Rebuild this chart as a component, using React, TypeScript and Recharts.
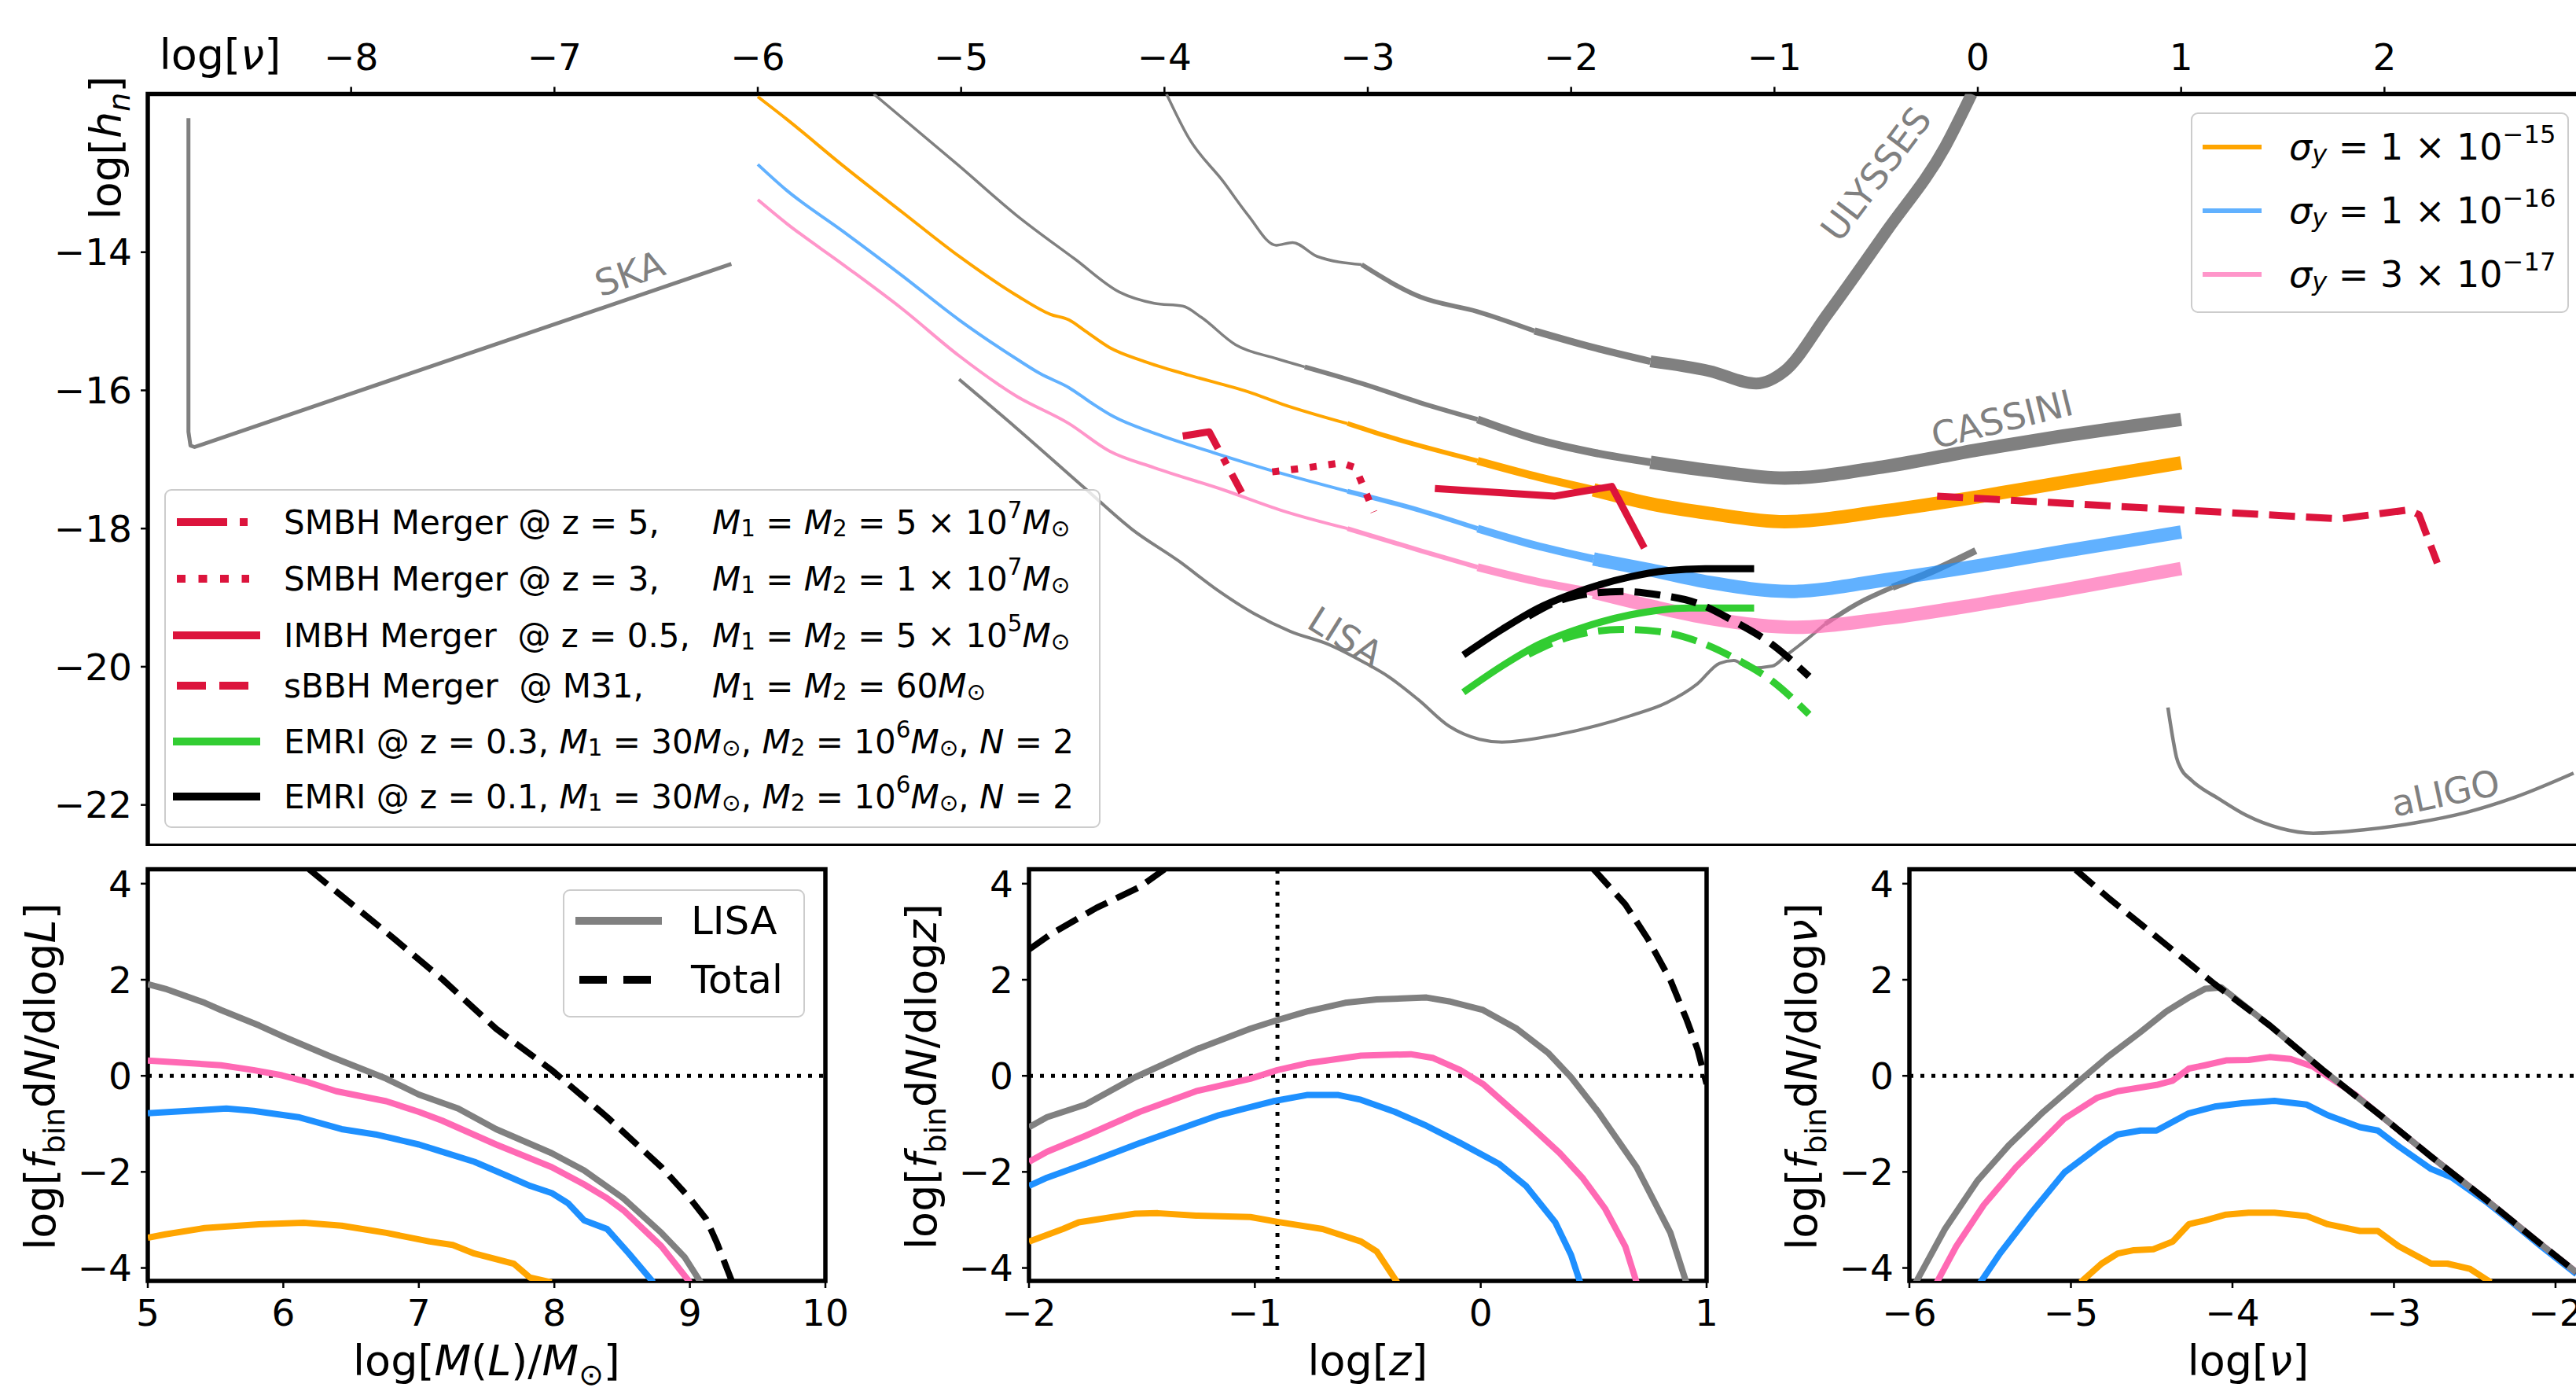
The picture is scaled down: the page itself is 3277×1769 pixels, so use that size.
import React from 'react';
import {
  LineChart,
  Line,
  XAxis,
  YAxis,
  ReferenceArea,
  ReferenceLine,
  ReferenceDot,
  Legend,
} from 'recharts';

type P = [number, number];
type Seg = { t: string; it?: boolean; sub?: boolean; sup?: boolean };

const FONT = 'DejaVu Sans';
const GRAY = '#808080';
const ORANGE = '#FFA500';
const BLUE = '#1E90FF';
const PINK = '#FF69B4';
const CRIMSON = '#DC143C';
const GREEN = '#32CD32';

// ---------- top panel: log[nu] vs log[h_n] ----------
const topNuTicks = [-8, -7, -6, -5, -4, -3, -2, -1, 0, 1, 2];
const hTicks = [-22, -20, -18, -16, -14];

const ska: P[] = [[-8.8, -12.06], [-8.8, -16.6], [-8.79, -16.8], [-8.77, -16.82], [-6.13, -14.17]];

const ulysses: P[] = [
  [-3.99, -11.71], [-3.88, -12.35], [-3.71, -12.98], [-3.59, -13.46], [-3.45, -13.9], [-3.37, -13.86],
  [-3.25, -14.06], [-3.03, -14.18], [-2.74, -14.65], [-2.46, -14.86], [-2.18, -15.14], [-1.89, -15.38],
  [-1.61, -15.58], [-1.32, -15.72], [-1.09, -15.9], [-0.95, -15.72], [-0.74, -14.9], [-0.45, -13.7],
  [-0.16, -12.47], [-0.03, -11.71],
];

const cassini: P[] = [
  [-5.43, -11.71], [-5.01, -12.75], [-4.73, -13.46], [-4.44, -14.1], [-4.22, -14.58], [-4.05, -14.74],
  [-3.91, -14.78], [-3.82, -14.94], [-3.65, -15.34], [-3.45, -15.54], [-3.31, -15.66], [-3.03, -15.9],
  [-2.74, -16.18], [-2.46, -16.42], [-2.18, -16.7], [-1.89, -16.9], [-1.61, -17.04], [-1.32, -17.16],
  [-0.95, -17.27], [-0.45, -17.1], [0, -16.86], [0.42, -16.66], [1, -16.42],
];

const lisa: P[] = [
  [-5.01, -15.84], [-4.73, -16.54], [-4.39, -17.42], [-4.16, -18.01], [-3.93, -18.47], [-3.74, -18.89],
  [-3.56, -19.23], [-3.38, -19.49], [-3.19, -19.68], [-3.01, -19.95], [-2.9, -20.14], [-2.75, -20.48],
  [-2.6, -20.86], [-2.45, -21.05], [-2.34, -21.09], [-2.08, -20.99], [-1.71, -20.71], [-1.53, -20.52],
  [-1.38, -20.25], [-1.27, -19.95], [-1.2, -19.91], [-1.12, -20.02], [-1.01, -19.99], [-0.94, -19.83],
  [-0.86, -19.65], [-0.75, -19.38], [-0.6, -19.1], [-0.42, -18.85], [-0.24, -18.64], [-0.01, -18.32],
];

const aligo: P[] = [
  [0.935, -20.59], [0.96, -21.05], [0.977, -21.31], [1.0, -21.48], [1.05, -21.64], [1.19, -21.92],
  [1.32, -22.15], [1.49, -22.34], [1.65, -22.41], [1.9, -22.36], [2.15, -22.26], [2.4, -22.11],
  [2.65, -21.88], [2.93, -21.54],
];

const sigma15: P[] = [
  [-6, -11.75], [-5.86, -12.07], [-5.58, -12.75], [-5.29, -13.42], [-5.01, -14.06], [-4.73, -14.62],
  [-4.56, -14.9], [-4.47, -14.98], [-4.39, -15.14], [-4.27, -15.38], [-4.1, -15.58], [-3.88, -15.78],
  [-3.59, -16.02], [-3.42, -16.2], [-3.1, -16.48], [-2.91, -16.66], [-2.46, -17.02], [-2.18, -17.24],
  [-1.89, -17.44], [-1.61, -17.64], [-1.32, -17.78], [-0.95, -17.9], [-0.45, -17.74], [0, -17.54],
  [0.42, -17.33], [1, -17.05],
];

const sigma16: P[] = [
  [-6, -12.73], [-5.86, -13.1], [-5.58, -13.7], [-5.29, -14.34], [-5.01, -14.98], [-4.73, -15.54],
  [-4.61, -15.76], [-4.47, -15.96], [-4.36, -16.18], [-4.25, -16.38], [-4.05, -16.62], [-3.76, -16.9],
  [-3.45, -17.18], [-3.1, -17.46], [-2.74, -17.74], [-2.46, -18.0], [-2.18, -18.24], [-1.89, -18.44],
  [-1.61, -18.6], [-1.32, -18.78], [-0.92, -18.91], [-0.45, -18.74], [0, -18.54], [0.42, -18.33],
  [1, -18.05],
];

const sigma17: P[] = [
  [-6, -13.24], [-5.86, -13.58], [-5.58, -14.18], [-5.29, -14.82], [-5.01, -15.5], [-4.73, -16.08],
  [-4.47, -16.48], [-4.27, -16.88], [-4.05, -17.12], [-3.71, -17.44], [-3.4, -17.76], [-3.1, -18.0],
  [-2.74, -18.32], [-2.46, -18.56], [-2.18, -18.76], [-1.89, -18.92], [-1.61, -19.12], [-1.32, -19.3],
  [-0.89, -19.43], [-0.45, -19.3], [0, -19.1], [0.42, -18.89], [1, -18.58],
];

const smbhZ5: P[] = [[-3.91, -16.66], [-3.78, -16.6], [-3.62, -17.48]];
const smbhZ3: P[] = [[-3.47, -17.18], [-3.3, -17.12], [-3.13, -17.05], [-3.06, -17.12], [-2.97, -17.76]];
const imbh: P[] = [[-2.67, -17.42], [-2.08, -17.53], [-1.8, -17.39], [-1.64, -18.28]];
const sbbh: P[] = [[-0.2, -17.53], [1.78, -17.86], [2.12, -17.73], [2.17, -17.8], [2.26, -18.5]];

const emriZ03: P[] = [[-2.53, -20.37], [-2.34, -19.99], [-2.16, -19.68], [-1.93, -19.42], [-1.71, -19.25], [-1.42, -19.15], [-1.1, -19.15]];
const emriZ03b: P[] = [[-2.21, -19.82], [-2.01, -19.57], [-1.75, -19.46], [-1.57, -19.49], [-1.38, -19.63], [-1.2, -19.87], [-1.01, -20.21], [-0.83, -20.69]];
const emriZ01: P[] = [[-2.53, -19.83], [-2.34, -19.46], [-2.16, -19.15], [-1.97, -18.92], [-1.71, -18.7], [-1.53, -18.61], [-1.34, -18.58], [-1.1, -18.58]];
const emriZ01b: P[] = [[-2.21, -19.27], [-2.01, -19.0], [-1.75, -18.91], [-1.57, -18.96], [-1.38, -19.08], [-1.2, -19.34], [-1.01, -19.68], [-0.83, -20.14]];

const sigmaMant = ['1', '1', '3'];
const sigmaExp = ['\u221215', '\u221216', '\u221217'];

// ---------- bottom panels: log[f_bin dN/dlog X] ----------
const fTicks = [-4, -2, 0, 2, 4];
const massTicks = [5, 6, 7, 8, 9, 10];
const zTicks = [-2, -1, 0, 1];
const nuTicks = [-6, -5, -4, -3, -2];

const massLisa: P[] = [[5, 1.91], [5.13, 1.81], [5.42, 1.52], [5.54, 1.37], [5.82, 1.05], [5.99, 0.83], [6.35, 0.4], [6.76, -0.06], [7, -0.39], [7.29, -0.68], [7.57, -1.11], [7.98, -1.61], [8.22, -1.97], [8.51, -2.55], [8.79, -3.27], [8.96, -3.77], [9.08, -4.3]];
const massPink: P[] = [[5, 0.32], [5.54, 0.22], [5.78, 0.12], [5.99, 0.01], [6.19, -0.14], [6.39, -0.32], [6.76, -0.53], [7, -0.75], [7.17, -0.93], [7.57, -1.43], [7.98, -1.9], [8.22, -2.26], [8.39, -2.55], [8.51, -2.8], [8.79, -3.55], [9, -4.3]];
const massBlue: P[] = [[5, -0.78], [5.42, -0.71], [5.58, -0.68], [5.78, -0.73], [6.11, -0.86], [6.43, -1.11], [6.68, -1.22], [7, -1.43], [7.17, -1.58], [7.41, -1.79], [7.65, -2.08], [7.82, -2.29], [7.98, -2.44], [8.1, -2.65], [8.22, -3.01], [8.39, -3.19], [8.55, -3.7], [8.73, -4.3]];
const massOrange: P[] = [[5, -3.37], [5.13, -3.3], [5.42, -3.17], [5.82, -3.09], [6.15, -3.06], [6.43, -3.12], [6.76, -3.27], [7.08, -3.45], [7.25, -3.52], [7.41, -3.7], [7.7, -3.91], [7.82, -4.2], [7.98, -4.3]];
const massTotal: P[] = [[6.19, 4.3], [6.35, 3.93], [6.76, 2.99], [7.17, 2.02], [7.57, 0.98], [7.98, 0.12], [8.39, -0.86], [8.79, -1.9], [9, -2.55], [9.12, -2.98], [9.2, -3.48], [9.28, -4.06], [9.32, -4.35]];

const zLisa: P[] = [[-2, -1.07], [-1.92, -0.86], [-1.75, -0.6], [-1.53, -0.03], [-1.26, 0.55], [-1.02, 0.98], [-0.9, 1.16], [-0.77, 1.34], [-0.6, 1.52], [-0.46, 1.59], [-0.24, 1.63], [-0.14, 1.55], [0.01, 1.37], [0.16, 0.98], [0.3, 0.47], [0.4, -0.03], [0.52, -0.75], [0.69, -1.9], [0.84, -3.27], [0.91, -4.3]];
const zPink: P[] = [[-2, -1.79], [-1.92, -1.58], [-1.75, -1.25], [-1.51, -0.75], [-1.26, -0.32], [-1.02, -0.06], [-0.9, 0.12], [-0.77, 0.26], [-0.53, 0.42], [-0.31, 0.45], [-0.21, 0.37], [-0.09, 0.12], [0.01, -0.17], [0.2, -0.96], [0.35, -1.61], [0.45, -2.12], [0.55, -2.76], [0.64, -3.55], [0.69, -4.3]];
const zBlue: P[] = [[-2, -2.29], [-1.92, -2.12], [-1.75, -1.83], [-1.51, -1.4], [-1.16, -0.82], [-1.07, -0.71], [-0.92, -0.53], [-0.77, -0.4], [-0.63, -0.4], [-0.53, -0.5], [-0.38, -0.75], [-0.24, -1.04], [-0.09, -1.4], [0.08, -1.83], [0.2, -2.29], [0.33, -3.05], [0.4, -3.73], [0.44, -4.3]];
const zOrange: P[] = [[-2, -3.45], [-1.85, -3.19], [-1.78, -3.05], [-1.63, -2.94], [-1.53, -2.87], [-1.43, -2.86], [-1.26, -2.91], [-1.02, -2.94], [-0.9, -3.04], [-0.7, -3.19], [-0.53, -3.45], [-0.46, -3.66], [-0.37, -4.3]];
const zTotalLow: P[] = [[-2, 2.63], [-1.9, 2.96], [-1.7, 3.5], [-1.51, 3.93], [-1.4, 4.3]];
const zTotalHigh: P[] = [[0.5, 4.3], [0.64, 3.57], [0.74, 2.85], [0.84, 1.99], [0.91, 1.19], [0.96, 0.55], [1, -0.17]];
const zMark = -0.9;

const nuLisa: P[] = [[-5.96, -4.3], [-5.78, -3.19], [-5.58, -2.19], [-5.38, -1.43], [-5.17, -0.75], [-4.97, -0.17], [-4.77, 0.4], [-4.57, 0.91], [-4.41, 1.34], [-4.27, 1.63], [-4.17, 1.81], [-4.07, 1.84], [-3.77, 1.05], [-3.44, 0.12], [-3.1, -0.78], [-2.77, -1.68], [-2.43, -2.58], [-2.1, -3.48], [-1.87, -4.09]];
const nuPink: P[] = [[-5.83, -4.3], [-5.71, -3.55], [-5.54, -2.69], [-5.34, -1.9], [-5.04, -0.89], [-4.84, -0.46], [-4.71, -0.32], [-4.47, -0.19], [-4.37, -0.1], [-4.27, 0.15], [-4.17, 0.22], [-4.04, 0.32], [-3.9, 0.33], [-3.77, 0.39], [-3.64, 0.35], [-3.5, 0.19], [-3.37, -0.1], [-3.24, -0.39], [-3.1, -0.78], [-2.77, -1.68], [-2.43, -2.58], [-2.1, -3.48], [-1.87, -4.09]];
const nuBlue: P[] = [[-5.56, -4.3], [-5.44, -3.7], [-5.24, -2.83], [-5.04, -2.01], [-4.81, -1.43], [-4.71, -1.22], [-4.57, -1.14], [-4.47, -1.14], [-4.37, -0.96], [-4.27, -0.78], [-4.11, -0.64], [-3.94, -0.57], [-3.74, -0.52], [-3.54, -0.6], [-3.41, -0.82], [-3.21, -1.07], [-3.1, -1.14], [-2.97, -1.47], [-2.77, -1.94], [-2.64, -2.12], [-2.43, -2.62], [-2.27, -3.05], [-2.1, -3.52], [-1.87, -4.13]];
const nuOrange: P[] = [[-4.94, -4.3], [-4.81, -3.91], [-4.71, -3.7], [-4.61, -3.63], [-4.49, -3.61], [-4.37, -3.45], [-4.27, -3.09], [-4.17, -3.01], [-4.04, -2.89], [-3.9, -2.85], [-3.74, -2.85], [-3.54, -2.92], [-3.41, -3.09], [-3.21, -3.23], [-3.1, -3.23], [-2.97, -3.55], [-2.77, -3.91], [-2.67, -3.91], [-2.53, -4.02], [-2.4, -4.3]];
const nuTotal: P[] = [[-4.97, 4.29], [-4.77, 3.71], [-4.44, 2.81], [-4.11, 1.91], [-3.77, 1.05], [-3.44, 0.12], [-3.1, -0.78], [-2.77, -1.68], [-2.43, -2.58], [-2.1, -3.48], [-1.87, -4.09]];

// stroke width steps that mimic the dense oscillation bands
const sigmaSteps = [[-6, -3.1, 4], [-3.1, -2.46, 6], [-2.46, -1.89, 10], [-1.89, 1, 17]];
const ulyssesSteps = [[-3.99, -3.03, 3.5], [-3.03, -2.18, 6], [-2.18, -1.61, 9], [-1.61, -0.03, 15]];
const cassiniSteps = [[-5.43, -3.31, 3.5], [-3.31, -2.46, 6], [-2.46, -1.61, 10], [-1.61, 1, 17]];
const lisaSteps = [[-5.01, -0.75, 4], [-0.75, -0.42, 6], [-0.42, -0.01, 9]];

const curveLabels = [
  { text: 'SKA', x: -6.63, y: -14.31, rot: -19 },
  { text: 'ULYSSES', x: -0.5, y: -12.87, rot: -53 },
  { text: 'CASSINI', x: 0.12, y: -16.42, rot: -14 },
  { text: 'LISA', x: -3.11, y: -19.57, rot: 32 },
  { text: 'aLIGO', x: 2.3, y: -21.83, rot: -12 },
];

const pts = (a: P[]) => a.map(([x, y]) => ({ x, y }));
const part = (a: P[], lo: number, hi: number) => pts(a.filter(([x]) => x >= lo - 1e-6 && x <= hi + 1e-6));
const fmt = (v: number) => (v < 0 ? `\u2212${Math.abs(v)}` : `${v}`);

const shiftOf = (s?: Seg) => (s?.sub ? 0.22 : s?.sup ? -0.42 : 0);

const MathText = ({ segs, x, y, size, rot = 0, fill = '#000' }: { segs: Seg[]; x: number; y: number; size: number; rot?: number; fill?: string }) => (
  <text x={x} y={y} fontSize={size} fontFamily={FONT} textAnchor="middle" fill={fill} transform={rot ? `rotate(${rot} ${x} ${y})` : undefined}>
    {segs.map((s, i) => (
      <tspan key={i} dy={(shiftOf(s) - shiftOf(segs[i - 1])) * size} fontStyle={s.it ? 'italic' : 'normal'} fontSize={s.sub || s.sup ? size * 0.7 : size}>
        {s.t}
      </tspan>
    ))}
  </text>
);

// Label clones its content with its own props (angle, offset...), so custom names are used here
const Title = (props: any) => <MathText segs={props.segs} x={props.tx} y={props.ty} size={54} rot={props.rot || 0} />;

const CurveLabel = (props: any) => {
  const vb = props.viewBox || { x: 0, y: 0, width: 0, height: 0 };
  const x = vb.x + (vb.width || 0) / 2;
  const y = vb.y + (vb.height || 0) / 2;
  return (
    <text x={x} y={y} textAnchor="middle" dominantBaseline="central" fontSize={46} fontFamily={FONT} fill={GRAY} transform={`rotate(${props.rot} ${x} ${y})`}>
      {props.text}
    </text>
  );
};

const hLabel: Seg[] = [{ t: 'log[' }, { t: 'h', it: true }, { t: 'n', it: true, sub: true }, { t: ']' }];
const nuLabel: Seg[] = [{ t: 'log[' }, { t: '\u03bd', it: true }, { t: ']' }];
const zLabel: Seg[] = [{ t: 'log[' }, { t: 'z', it: true }, { t: ']' }];
const massLabel: Seg[] = [{ t: 'log[' }, { t: 'M', it: true }, { t: '(' }, { t: 'L', it: true }, { t: ')/' }, { t: 'M', it: true }, { t: '\u2299', sub: true }, { t: ']' }];
const fLabel = (end: string): Seg[] => [
  { t: 'log[' }, { t: 'f', it: true }, { t: 'bin', sub: true }, { t: 'd' }, { t: 'N', it: true }, { t: '/dlog' }, { t: end, it: true }, { t: ']' },
];

const Sub = ({ children }: { children: React.ReactNode }) => (
  <span style={{ fontSize: '0.7em', position: 'relative', top: '0.28em', lineHeight: 0 }}>{children}</span>
);
const Sup = ({ children }: { children: React.ReactNode }) => (
  <span style={{ fontSize: '0.7em', position: 'relative', top: '-0.5em', lineHeight: 0 }}>{children}</span>
);
const Msun = () => (
  <>
    <i>M</i>
    <Sub>{'\u2299'}</Sub>
  </>
);

const Handle = ({ left, top, len, color, width, dash, opacity = 1 }: any) => (
  <svg style={{ position: 'absolute', left, top: top - 10 }} width={len} height={20}>
    <line x1={0} y1={10} x2={len} y2={10} stroke={color} strokeOpacity={opacity} strokeWidth={width} strokeDasharray={dash} />
  </svg>
);

const boxStyle = (left: number, top: number, width: number, height: number): React.CSSProperties => ({
  position: 'absolute',
  left,
  top,
  width,
  height,
  boxSizing: 'border-box',
  border: '2.5px solid #cccccc',
  borderRadius: 9,
  background: 'rgba(255,255,255,0.8)',
});

const rowStyle = (left: number, center: number, size: number): React.CSSProperties => ({
  position: 'absolute',
  left,
  top: center - 35,
  height: 70,
  display: 'flex',
  alignItems: 'center',
  whiteSpace: 'pre',
  fontSize: size,
  fontFamily: FONT,
  color: '#000',
});

const sigmaColors = [
  { c: ORANGE, o: 1 },
  { c: BLUE, o: 0.7 },
  { c: PINK, o: 0.7 },
];
const sigmaRowsY = [187, 268, 349];
const mergerRowsY = [664, 736, 808, 872, 943, 1013];

const MainLegends = () => (
  <div style={{ position: 'relative', width: 0, height: 0 }}>
    <div style={boxStyle(2787, 143, 481, 255)} />
    {sigmaRowsY.map((cy, i) => (
      <React.Fragment key={i}>
        <Handle left={2802} top={cy} len={75} color={sigmaColors[i].c} opacity={sigmaColors[i].o} width={6} />
        <div style={rowStyle(2912, cy, 46)}>
          <i>{'\u03c3'}</i>
          <Sub>
            <i>y</i>
          </Sub>
          {` = ${sigmaMant[i]} \u00d7 10`}
          <Sup>{sigmaExp[i]}</Sup>
        </div>
      </React.Fragment>
    ))}

    <div style={boxStyle(209, 622, 1191, 431)} />
    <Handle left={225} top={mergerRowsY[0]} len={92} color={CRIMSON} width={10} dash="64 16 10 16" />
    <Handle left={225} top={mergerRowsY[1]} len={92} color={CRIMSON} width={10} dash="11 16.5" />
    <Handle left={220} top={mergerRowsY[2]} len={111} color={CRIMSON} width={10} />
    <Handle left={225} top={mergerRowsY[3]} len={92} color={CRIMSON} width={10} dash="37 17" />
    <Handle left={220} top={mergerRowsY[4]} len={111} color={GREEN} width={10} />
    <Handle left={220} top={mergerRowsY[5]} len={111} color="#000" width={10} />

    <div style={rowStyle(361, mergerRowsY[0], 42)}>SMBH Merger @ z = 5,</div>
    <div style={rowStyle(361, mergerRowsY[1], 42)}>SMBH Merger @ z = 3,</div>
    <div style={rowStyle(361, mergerRowsY[2], 42)}>IMBH Merger  @ z = 0.5,</div>
    <div style={rowStyle(361, mergerRowsY[3], 42)}>sBBH Merger  @ M31,</div>
    {[
      ['5 \u00d7 10', '7'],
      ['1 \u00d7 10', '7'],
      ['5 \u00d7 10', '5'],
      ['60', ''],
    ].map(([coef, ex], i) => (
      <div key={i} style={rowStyle(906, mergerRowsY[i], 42)}>
        <i>M</i>
        <Sub>1</Sub>
        {' = '}
        <i>M</i>
        <Sub>2</Sub>
        {` = ${coef}`}
        {ex ? <Sup>{ex}</Sup> : null}
        <Msun />
      </div>
    ))}
    {['0.3', '0.1'].map((z, i) => (
      <div key={z} style={rowStyle(361, mergerRowsY[4 + i], 42)}>
        {`EMRI @ z = ${z}, `}
        <i>M</i>
        <Sub>1</Sub>
        {' = 30'}
        <Msun />
        {', '}
        <i>M</i>
        <Sub>2</Sub>
        {' = 10'}
        <Sup>6</Sup>
        <Msun />
        {', '}
        <i>N</i>
        {' = 2'}
      </div>
    ))}
  </div>
);

const PanelLegend = () => (
  <div style={{ position: 'relative', width: 0, height: 0 }}>
    <div style={boxStyle(716, 50.5, 308, 163.5)} />
    <Handle left={732} top={91} len={110} color={GRAY} width={10} />
    <Handle left={736.6} top={166} len={92} color="#000" width={10} dash="35 21" />
    <div style={rowStyle(879, 91, 50)}>LISA</div>
    <div style={rowStyle(879, 166, 50)}>Total</div>
  </div>
);

const tickStyle = { fontSize: 47, fill: '#000', fontFamily: FONT };
const tickLineStyle = { stroke: '#000', strokeWidth: 2.5 };

const stepLines = (key: string, src: P[], steps: number[][], color: string, opacity = 1) =>
  steps.map(([lo, hi, w], i) => (
    <Line
      key={`${key}${i}`}
      data={part(src, lo, hi)}
      dataKey="y"
      type="monotone"
      stroke={color}
      strokeOpacity={opacity}
      strokeWidth={w}
      strokeLinejoin="round"
      dot={false}
      isAnimationActive={false}
    />
  ));

const simpleLine = (key: string, src: P[], color: string, width: number, type: 'monotone' | 'linear' = 'monotone', dash?: string) => (
  <Line
    key={key}
    data={pts(src)}
    dataKey="y"
    type={type}
    stroke={color}
    strokeWidth={width}
    strokeDasharray={dash}
    strokeLinejoin="round"
    dot={false}
    isAnimationActive={false}
  />
);

type Series = { d: P[]; c: string; dash?: string };
type PanelCfg = {
  left: number;
  yw: number;
  width: number;
  domain: [number, number];
  ticks: number[];
  xLabel: Seg[];
  yLabel: Seg[];
  series: Series[];
  vline?: number;
  legend?: boolean;
};

const FMIN = -4.27;
const FMAX = 4.3;
const PLOT_W = 862;

const panels: PanelCfg[] = [
  {
    left: 0,
    yw: 188,
    width: 1110,
    domain: [5, 10],
    ticks: massTicks,
    xLabel: massLabel,
    yLabel: fLabel('L'),
    legend: true,
    series: [
      { d: massOrange, c: ORANGE },
      { d: massBlue, c: BLUE },
      { d: massPink, c: PINK },
      { d: massLisa, c: GRAY },
      { d: massTotal, c: '#000', dash: '30 13' },
    ],
  },
  {
    left: 1100,
    yw: 209,
    width: 1120,
    domain: [-2, 1],
    ticks: zTicks,
    xLabel: zLabel,
    yLabel: fLabel('z'),
    vline: zMark,
    series: [
      { d: zOrange, c: ORANGE },
      { d: zBlue, c: BLUE },
      { d: zPink, c: PINK },
      { d: zLisa, c: GRAY },
      { d: zTotalLow, c: '#000', dash: '30 13' },
      { d: zTotalHigh, c: '#000', dash: '30 13' },
    ],
  },
  {
    left: 2200,
    yw: 229,
    width: 1130,
    domain: [-6, -1.805],
    ticks: nuTicks,
    xLabel: nuLabel,
    yLabel: fLabel('\u03bd'),
    series: [
      { d: nuOrange, c: ORANGE },
      { d: nuBlue, c: BLUE },
      { d: nuPink, c: PINK },
      { d: nuLisa, c: GRAY },
      { d: nuTotal, c: '#000', dash: '30 13' },
    ],
  },
];

const Panel = ({ cfg }: { cfg: PanelCfg }) => (
  <div style={{ position: 'absolute', left: cfg.left, top: 1080 }}>
    <LineChart width={cfg.width} height={689} margin={{ top: 25.5, right: cfg.width - cfg.yw - PLOT_W, bottom: 0, left: 0 }}>
      <XAxis
        type="number"
        dataKey="x"
        domain={cfg.domain}
        ticks={cfg.ticks}
        interval={0}
        allowDataOverflow
        height={140}
        axisLine={false}
        tickLine={tickLineStyle}
        tickSize={9}
        tickMargin={14.6}
        tick={tickStyle}
        tickFormatter={fmt}
        label={<Title segs={cfg.xLabel} tx={cfg.yw + PLOT_W / 2} ty={669} />}
      />
      <YAxis
        type="number"
        domain={[FMIN, FMAX]}
        ticks={fTicks}
        interval={0}
        allowDataOverflow
        width={cfg.yw}
        axisLine={false}
        tickLine={tickLineStyle}
        tickSize={9}
        tickMargin={11}
        tick={tickStyle}
        tickFormatter={fmt}
        label={<Title segs={cfg.yLabel} tx={cfg.yw - 118} ty={289} rot={-90} />}
      />
      <ReferenceLine y={0} stroke="#000" strokeWidth={5} strokeDasharray="5 9" />
      {cfg.vline !== undefined && <ReferenceLine x={cfg.vline} stroke="#000" strokeWidth={5} strokeDasharray="5 9" />}
      {cfg.series.map((s, i) => (
        <Line
          key={i}
          data={pts(s.d)}
          dataKey="y"
          type="linear"
          stroke={s.c}
          strokeWidth={8}
          strokeDasharray={s.dash}
          strokeLinejoin="round"
          dot={false}
          isAnimationActive={false}
        />
      ))}
      <ReferenceArea x1={cfg.domain[0]} x2={cfg.domain[1]} y1={FMIN} y2={FMAX} fill="none" fillOpacity={0} stroke="#000" strokeWidth={5.5} ifOverflow="visible" />
      {cfg.legend && (
        <Legend
          layout="vertical"
          align="center"
          verticalAlign="middle"
          content={() => <PanelLegend />}
          wrapperStyle={{ left: 0, top: 0, width: 0, height: 0 }}
        />
      )}
    </LineChart>
  </div>
);

export default function App() {
  return (
    <div
      style={{
        position: 'absolute',
        left: 0,
        top: 0,
        width: 3277,
        height: 1769,
        overflow: 'hidden',
        background: '#fff',
        fontFamily: FONT,
      }}
    >
      <div style={{ position: 'absolute', left: 0, top: 0 }}>
        <LineChart width={3300} height={1076} margin={{ top: 0, right: 8, bottom: 0.5, left: 0 }}>
          <XAxis
            type="number"
            dataKey="x"
            orientation="top"
            domain={[-9, 3]}
            ticks={topNuTicks}
            interval={0}
            allowDataOverflow
            height={119.5}
            axisLine={false}
            tickLine={tickLineStyle}
            tickSize={9}
            tickMargin={21.5}
            tick={tickStyle}
            tickFormatter={fmt}
            label={<Title segs={nuLabel} tx={280} ty={88} />}
          />
          <YAxis
            type="number"
            domain={[-22.59, -11.71]}
            ticks={hTicks}
            interval={0}
            allowDataOverflow
            width={188}
            axisLine={false}
            tickLine={tickLineStyle}
            tickSize={9}
            tickMargin={11}
            tick={tickStyle}
            tickFormatter={fmt}
            label={<Title segs={hLabel} tx={153} ty={188} rot={-90} />}
          />

          {simpleLine('ska', ska, GRAY, 5, 'linear')}
          {stepLines('uly', ulysses, ulyssesSteps, GRAY)}
          {stepLines('cas', cassini, cassiniSteps, GRAY)}
          {stepLines('lisa', lisa, lisaSteps, GRAY)}
          {simpleLine('aligo', aligo, GRAY, 4.5)}

          {stepLines('s15', sigma15, sigmaSteps, ORANGE)}
          {stepLines('s16', sigma16, sigmaSteps, BLUE, 0.7)}
          {stepLines('s17', sigma17, sigmaSteps, PINK, 0.7)}

          {simpleLine('smbh5', smbhZ5, CRIMSON, 9, 'linear', '58 14 9 14')}
          {simpleLine('smbh3', smbhZ3, CRIMSON, 9, 'linear', '9 15')}
          {simpleLine('imbh', imbh, CRIMSON, 9, 'linear')}
          {simpleLine('sbbh', sbbh, CRIMSON, 9, 'linear', '33 14')}
          {simpleLine('e03', emriZ03, GREEN, 9)}
          {simpleLine('e03b', emriZ03b, GREEN, 9, 'monotone', '33 14')}
          {simpleLine('e01', emriZ01, '#000', 9)}
          {simpleLine('e01b', emriZ01b, '#000', 9, 'monotone', '33 14')}

          {curveLabels.map((l) => (
            <ReferenceDot
              key={l.text}
              x={l.x}
              y={l.y}
              r={0}
              fill="none"
              stroke="none"
              ifOverflow="visible"
              label={<CurveLabel text={l.text} rot={l.rot} />}
            />
          ))}

          <ReferenceArea x1={-9} x2={3} y1={-22.59} y2={-11.71} fill="none" fillOpacity={0} stroke="#000" strokeWidth={5.5} ifOverflow="visible" />
          <Legend
            layout="vertical"
            align="center"
            verticalAlign="middle"
            content={() => <MainLegends />}
            wrapperStyle={{ left: 0, top: 0, width: 0, height: 0 }}
          />
        </LineChart>
      </div>

      {panels.map((p, i) => (
        <Panel key={i} cfg={p} />
      ))}
    </div>
  );
}
